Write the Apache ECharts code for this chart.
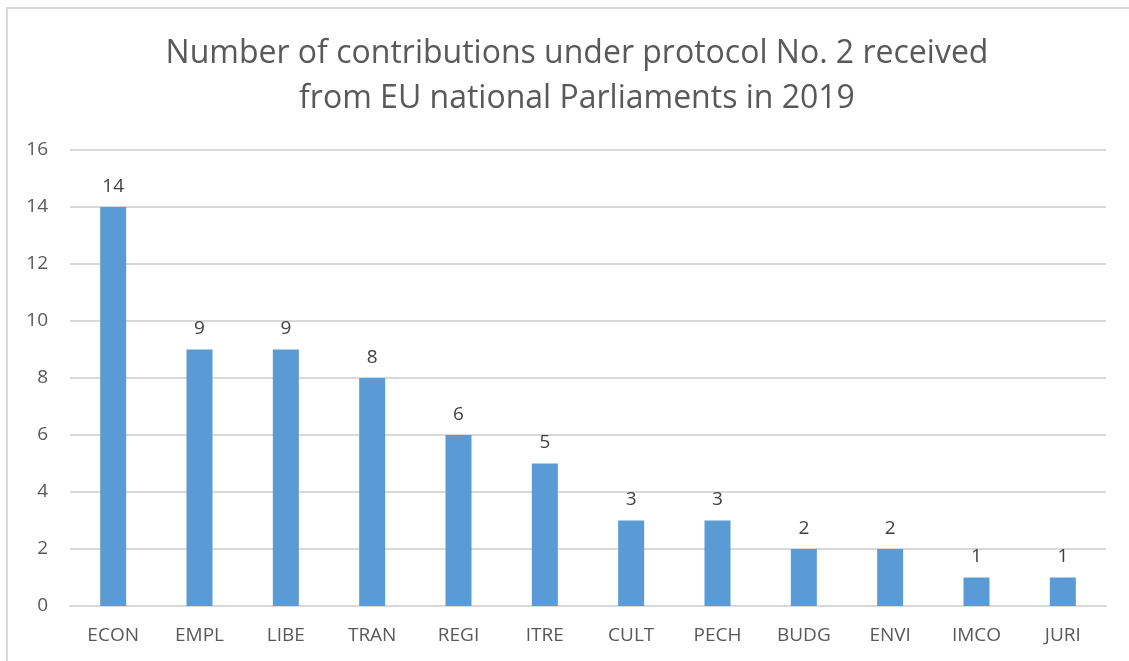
<!DOCTYPE html>
<html><head><meta charset="utf-8">
<script src="https://cdn.jsdelivr.net/npm/echarts@6/dist/echarts.min.js"></script>
<style>html,body{margin:0;padding:0;background:#fff}#c{width:1129px;height:661px}</style>
</head><body><div id="c"></div>
<script>
const categories = ['ECON','EMPL','LIBE','TRAN','REGI','ITRE','CULT','PECH','BUDG','ENVI','IMCO','JURI'];
const values = [14,9,9,8,6,5,3,3,2,2,1,1];
const titleLines = ['Number of contributions under protocol No. 2 received','from EU national Parliaments in 2019'];
const chart = echarts.init(document.getElementById('c'));
chart.setOption({
  animation:false,
  backgroundColor:'#fff',
  graphic:[{type:'rect',shape:{x:7,y:8,width:1200,height:700},style:{fill:'none',stroke:'#d9d9d9',lineWidth:2}}],
  title:{text:titleLines.join('\n'),left:572,top:26,textAlign:'center',
    textStyle:{fontFamily:'Open Sans',fontWeight:'normal',fontSize:32,color:'#595959',lineHeight:45}},
  grid:{left:70,right:23,top:150,bottom:55,containLabel:false},
  xAxis:{type:'category',data:categories,
    axisLine:{lineStyle:{color:'#d9d9d9',width:2}},axisTick:{show:false},
    axisLabel:{color:'#595959',fontSize:19,fontFamily:'Open Sans',margin:20}},
  yAxis:{type:'value',min:0,max:16,interval:2,
    axisLine:{show:false},axisTick:{show:false},
    splitLine:{lineStyle:{color:'#d9d9d9',width:2}},
    axisLabel:{color:'#595959',fontSize:19,fontFamily:'Open Sans',margin:22}},
  series:[{type:'bar',data:values,barWidth:26,
    itemStyle:{color:'#5b9bd5'},
    label:{show:true,position:'top',distance:11,color:'#404040',fontSize:19,fontFamily:'Open Sans'}}]
});
</script></body></html>
